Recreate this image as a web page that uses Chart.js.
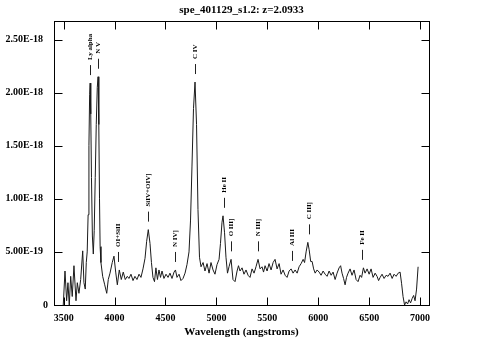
<!DOCTYPE html>
<html>
<head>
<meta charset="utf-8">
<script src="https://cdn.jsdelivr.net/npm/chart.js@4/dist/chart.umd.min.js"></script>
<style>
  body { margin: 0; background: #fff; }
  #wrap { width: 483px; height: 358px; }
</style>
</head>
<body>
<div id="wrap"><canvas id="spec" width="483" height="358"></canvas></div>
<script>
const redshift = 2.0933;
const titleText = 'spe_401129_s1.2: z=2.0933';

// observed wavelength (angstroms) and flux (units of 1e-19)
const wavelength = [
  3496, 3513, 3529, 3542, 3555, 3569, 3584, 3601, 3621, 3634, 3650, 3667, 3687, 3699, 3712, 3722,
  3731, 3740, 3748, 3755, 3760, 3766, 3773, 3782, 3791, 3800, 3810, 3820, 3830, 3838, 3845, 3852,
  3858, 3866, 3883, 3903, 3923,
  3938, 3955, 3977, 3994, 4011, 4027, 4046, 4066, 4085, 4105, 4125, 4141, 4161, 4181, 4200, 4220,
  4240, 4259, 4279, 4299, 4315, 4331, 4348, 4362, 4377, 4392, 4406, 4421, 4436, 4451, 4466, 4485,
  4505, 4525, 4544, 4564, 4584, 4598, 4613, 4633, 4652, 4672, 4692, 4711, 4731, 4746, 4760, 4775,
  4790, 4805, 4819, 4834, 4849, 4869, 4888, 4908, 4928, 4947, 4967, 4986, 5006, 5026, 5040, 5055,
  5065, 5080, 5094, 5109, 5124, 5144, 5163, 5183, 5203, 5217, 5232, 5252, 5271, 5291, 5311, 5330,
  5350, 5370, 5389, 5409, 5429, 5448, 5463, 5478, 5498, 5517, 5537, 5557, 5576, 5596, 5616, 5635,
  5655, 5675, 5694, 5714, 5734, 5753, 5773, 5793, 5812, 5832, 5852, 5866, 5881, 5898, 5911, 5926,
  5940, 5955, 5970, 5989, 6009, 6028, 6048, 6068, 6087, 6107, 6127, 6146, 6166, 6185, 6205, 6220,
  6234, 6249, 6264, 6278, 6293, 6313, 6332, 6352, 6372, 6391, 6411, 6426, 6444, 6460, 6480, 6500,
  6519, 6539, 6559, 6578, 6593, 6608, 6627, 6647, 6667, 6686, 6706, 6726, 6745, 6765, 6785, 6804,
  6819, 6833, 6848, 6863, 6878, 6892, 6907, 6922, 6937, 6951, 6966, 6981
];
const flux = [
  0.0, 3.2, 0.4, 2.1, 0.0, 2.7, 0.8, 3.7, 0.4, 2.1, 1.1, 2.4, 5.1, 2.1, 1.5, 4.0,
  5.0, 8.5, 15.0, 19.8, 20.9, 18.0, 12.0, 6.5, 4.8, 7.0, 12.0, 17.0, 20.5, 21.5, 17.0, 10.0,
  5.5, 4.0, 2.7, 1.9, 1.1,
  2.4, 3.0, 4.0, 4.6, 3.1, 1.9, 3.3, 2.4, 3.1, 2.4, 2.7, 2.5, 2.9, 2.3, 2.7, 2.4,
  2.9, 2.6, 3.4, 4.4, 6.0, 7.1, 5.8, 4.0, 2.6, 2.2, 3.5, 2.4, 3.3, 2.6, 3.2, 2.5,
  2.9, 2.6, 3.0, 2.5, 3.1, 3.3, 2.6, 2.9, 2.3, 2.5, 3.0, 3.8, 5.0, 8.0, 13.0, 18.5,
  21.0, 17.0, 9.0, 4.5, 3.6, 4.0, 3.2, 3.9, 3.0, 4.0, 3.3, 2.9, 3.8, 4.3, 5.8, 7.8,
  8.4, 6.8, 4.5, 3.0, 3.6, 4.3, 2.4, 2.2, 3.2, 3.7, 3.2, 3.5, 2.9, 3.3, 2.8, 2.6,
  3.4, 3.0, 3.6, 4.3, 3.4, 3.6, 3.1, 3.7, 3.2, 3.9, 3.3, 4.0, 4.3, 3.4, 3.9, 2.9,
  3.3, 2.8, 2.6, 3.2, 3.4, 3.0, 3.3, 3.0, 3.6, 3.9, 4.3, 4.0, 5.0, 5.9, 5.2, 4.1,
  4.1, 3.4, 3.0, 3.3, 3.1, 2.8, 3.2, 2.9, 2.7, 3.2, 2.8, 3.1, 2.4, 3.0, 3.5, 3.7,
  3.0, 2.5, 1.9, 2.6, 3.0, 3.4, 2.8, 3.3, 2.4, 2.2, 2.8, 2.6, 3.5, 3.0, 3.4, 2.9,
  3.4, 2.6, 3.0, 2.7, 2.3, 2.6, 2.9, 2.5, 2.8, 2.7, 3.0, 2.5, 2.9, 2.7, 3.0, 3.1,
  2.0, 0.8, 0.0, 0.3, 0.1, 0.5, 0.2, 0.6, 0.9, 0.4, 1.5, 3.6
];

// identified lines (rest wavelengths)
const lineNames = ['Ly alpha', 'N V', 'OI+SiII', 'SiIV+OIV]', 'N IV]', 'C IV', 'He II', 'O III]', 'N III]', 'Al III', 'C III]', 'Fe II'];
const lineRest = [1216, 1240, 1304, 1400, 1486, 1549, 1640, 1663, 1750, 1857, 1909, 2080];

const xTicks = [3500, 4000, 4500, 5000, 5500, 6000, 6500, 7000];
const yTicks = [0, 5e-19, 1e-18, 1.5e-18, 2e-18, 2.5e-18];

const FONT = "'Liberation Serif', 'Times New Roman', serif";

const framePlugin = {
  id: 'frame',
  afterDraw(chart) {
    const ctx = chart.ctx;
    const a = chart.chartArea;
    const xs = chart.scales.x, ys = chart.scales.y;
    const L = Math.round(a.left) + 0.5, R = Math.round(a.right) + 0.5;
    const T = Math.round(a.top) + 0.5, B = Math.round(a.bottom) + 0.5;
    ctx.save();
    ctx.strokeStyle = '#000';
    ctx.lineWidth = 1;
    ctx.strokeRect(L, T, R - L, B - T);
    ctx.beginPath();
    xTicks.forEach(v => {
      const px = Math.round(xs.getPixelForValue(v)) + 0.5;
      ctx.moveTo(px, B); ctx.lineTo(px, B - 8);
      ctx.moveTo(px, T); ctx.lineTo(px, T + 8);
    });
    yTicks.forEach(v => {
      const py = Math.round(ys.getPixelForValue(v)) + 0.5;
      ctx.moveTo(L, py); ctx.lineTo(L + 8, py);
      ctx.moveTo(R, py); ctx.lineTo(R - 8, py);
    });
    ctx.stroke();

    // line identifications
    ctx.font = 'bold 7px ' + FONT;
    ctx.fillStyle = '#000';
    ctx.strokeStyle = '#222';
    lineRest.forEach((rest, i) => {
      const obs = rest * (1 + redshift);
      let peak = 0;
      wavelength.forEach((w, j) => {
        if (Math.abs(w - obs) <= 25 && flux[j] > peak) peak = flux[j];
      });
      const px = Math.round(xs.getPixelForValue(obs)) + 0.5;
      const py = ys.getPixelForValue(peak * 1e-19);
      const tickBottom = py - 8, tickTop = tickBottom - 10;
      ctx.beginPath();
      ctx.moveTo(px, tickBottom); ctx.lineTo(px, tickTop);
      ctx.stroke();
      ctx.save();
      ctx.translate(px, tickTop - 5);
      ctx.rotate(-Math.PI / 2);
      ctx.textAlign = 'left';
      ctx.textBaseline = 'middle';
      ctx.fillText(lineNames[i], 0, 0);
      ctx.restore();
    });
    ctx.restore();
  }
};

const points = wavelength.map((w, i) => ({ x: w, y: flux[i] * 1e-19 }));

new Chart(document.getElementById('spec'), {
  type: 'line',
  data: {
    datasets: [{
      data: points,
      borderColor: '#1a1a1a',
      borderWidth: 1,
      pointRadius: 0,
      tension: 0,
      fill: false
    }]
  },
  options: {
    responsive: false,
    animation: false,
    layout: { padding: 0 },
    plugins: {
      legend: { display: false },
      tooltip: { enabled: false },
      title: {
        display: true,
        text: titleText,
        color: '#000',
        font: { family: FONT, size: 11, weight: 'bold' },
        padding: { top: 4, bottom: 3.8 }
      }
    },
    scales: {
      x: {
        type: 'linear',
        min: 3405,
        max: 7088,
        afterBuildTicks: s => { s.ticks = xTicks.map(v => ({ value: v })); },
        afterFit: s => { s.height = 53; },
        grid: { display: false, drawTicks: false },
        border: { display: false },
        ticks: {
          color: '#000',
          padding: 7,
          maxRotation: 0,
          font: { family: FONT, size: 10, weight: 'bold' },
          callback: v => String(v)
        },
        title: {
          display: true,
          text: 'Wavelength (angstroms)',
          color: '#000',
          font: { family: FONT, size: 11, weight: 'bold' },
          padding: { top: 0, bottom: 19.4 }
        }
      },
      y: {
        min: 0,
        max: 2.675e-18,
        afterBuildTicks: s => { s.ticks = yTicks.map(v => ({ value: v })); },
        afterFit: s => { s.width = 54; },
        grid: { display: false, drawTicks: false },
        border: { display: false },
        ticks: {
          color: '#000',
          padding: 6,
          font: { family: FONT, size: 10, weight: 'bold' },
          callback: v => v === 0 ? '0' : v.toExponential(2).toUpperCase() + '\u2002'
        }
      },
      yRight: {
        position: 'right',
        min: 0,
        max: 1,
        afterFit: s => { s.width = 54; },
        grid: { display: false, drawTicks: false },
        border: { display: false },
        ticks: { display: false }
      }
    }
  },
  plugins: [framePlugin]
});
</script>
</body>
</html>
